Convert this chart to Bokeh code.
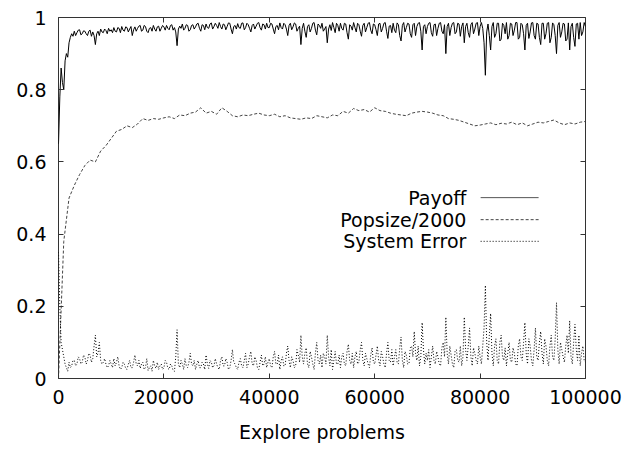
from bokeh.plotting import figure
from bokeh.models import (FixedTicker, CustomJSTickFormatter, LinearAxis, Label, Arrow,
                          ColumnDataSource)
from bokeh.embed import file_html
from bokeh.resources import INLINE

# ---------------- data ----------------
STEP = 250  # sampling interval of payoff / system error (explore problems)
payoff = [
    0.65,0.78, 0.86,0.82, 0.80,0.88, 0.90,0.89, 0.93,0.945, 0.955,0.948, 0.962,0.950, 0.958,0.965, 0.966,0.952, 0.955,0.963, 0.962,0.955, 0.950,0.962, 0.965,0.948, 0.960,0.950, 0.925,0.955, 0.962,0.950, 0.968,0.960, 0.958,0.968, 0.964,0.955, 0.970,0.962,
    0.966,0.958, 0.972,0.962, 0.960,0.972, 0.970,0.958, 0.975,0.965, 0.962,0.974, 0.972,0.960, 0.968,0.975, 0.950,0.966, 0.974,0.962, 0.970,0.976, 0.978,0.962, 0.965,0.978, 0.975,0.962, 0.958,0.970, 0.972,0.962, 0.978,0.968, 0.962,0.974, 0.976,0.962, 0.970,0.978,
    0.974,0.965, 0.978,0.970, 0.966,0.978, 0.980,0.965, 0.972,0.960, 0.922,0.968, 0.976,0.970, 0.982,0.965, 0.970,0.980, 0.978,0.962, 0.966,0.978, 0.980,0.968, 0.974,0.982, 0.984,0.970, 0.962,0.980, 0.978,0.966, 0.982,0.972, 0.970,0.982, 0.985,0.968, 0.975,0.984,
    0.978,0.970, 0.986,0.975, 0.968,0.982, 0.980,0.966, 0.975,0.985, 0.984,0.968, 0.955,0.975, 0.978,0.968, 0.983,0.972, 0.970,0.984, 0.985,0.966, 0.972,0.984, 0.980,0.970, 0.960,0.978, 0.982,0.968, 0.976,0.984, 0.986,0.972, 0.965,0.982, 0.980,0.968, 0.984,0.972,
    0.972,0.984, 0.982,0.968, 0.955,0.975, 0.978,0.966, 0.985,0.972, 0.968,0.984, 0.980,0.968, 0.950,0.978, 0.984,0.966, 0.974,0.985, 0.982,0.962, 0.970,0.976, 0.925,0.970, 0.984,0.962, 0.945,0.975, 0.980,0.960, 0.970,0.984, 0.986,0.965, 0.952,0.982, 0.978,0.970,
    0.984,0.962, 0.968,0.975, 0.930,0.968, 0.980,0.964, 0.986,0.972, 0.958,0.984, 0.978,0.962, 0.984,0.970, 0.965,0.984, 0.982,0.958, 0.940,0.980, 0.976,0.965, 0.986,0.972, 0.960,0.984, 0.980,0.962, 0.948,0.978, 0.984,0.960, 0.972,0.984, 0.986,0.965, 0.955,0.982,
    0.980,0.966, 0.950,0.982, 0.984,0.960, 0.970,0.984, 0.986,0.962, 0.942,0.976, 0.978,0.958, 0.984,0.965, 0.958,0.985, 0.980,0.950, 0.935,0.978, 0.986,0.960, 0.972,0.984, 0.982,0.955, 0.945,0.980, 0.984,0.950, 0.975,0.984, 0.986,0.962, 0.910,0.975, 0.980,0.955,
    0.975,0.984, 0.986,0.958, 0.948,0.980, 0.982,0.950, 0.970,0.984, 0.986,0.962, 0.955,0.980, 0.900,0.975, 0.984,0.950, 0.972,0.984, 0.986,0.955, 0.960,0.984, 0.982,0.948, 0.975,0.985, 0.930,0.975, 0.984,0.958, 0.945,0.980, 0.986,0.955, 0.968,0.984, 0.986,0.950,
    0.975,0.986, 0.970,0.930, 0.840,0.960, 0.982,0.950, 0.910,0.975, 0.986,0.945, 0.955,0.984, 0.984,0.935, 0.940,0.984, 0.978,0.955, 0.986,0.940, 0.950,0.984, 0.982,0.950, 0.965,0.986, 0.986,0.940, 0.945,0.984, 0.980,0.955, 0.910,0.978, 0.984,0.942, 0.960,0.985,
    0.986,0.950, 0.940,0.984, 0.982,0.945, 0.925,0.984, 0.984,0.940, 0.955,0.984, 0.986,0.930, 0.945,0.985, 0.980,0.950, 0.900,0.978, 0.986,0.945, 0.960,0.984, 0.982,0.935, 0.940,0.985, 0.910,0.975, 0.984,0.945, 0.920,0.982, 0.984,0.940, 0.986,0.950, 0.960,0.986,
    0.975,
]
system_error = [
    0.35,0.20, 0.10,0.08, 0.06,0.04, 0.03,0.02, 0.045,0.03, 0.035,0.05, 0.05,0.035, 0.04,0.06, 0.055,0.04, 0.045,0.065, 0.06,0.04, 0.05,0.07, 0.065,0.045, 0.055,0.09, 0.12,0.06, 0.07,0.10, 0.05,0.04, 0.045,0.055, 0.04,0.03, 0.035,0.05,
    0.04,0.03, 0.055,0.035, 0.045,0.06, 0.035,0.025, 0.03,0.045, 0.04,0.028, 0.025,0.04, 0.05,0.03, 0.03,0.045, 0.065,0.04, 0.035,0.05, 0.028,0.04, 0.045,0.025, 0.03,0.055, 0.022,0.03, 0.035,0.02, 0.05,0.035, 0.028,0.045, 0.025,0.035, 0.04,0.025,
    0.03,0.05, 0.045,0.028, 0.025,0.04, 0.035,0.022, 0.02,0.06, 0.135,0.04, 0.03,0.05, 0.04,0.025, 0.055,0.035, 0.03,0.045, 0.07,0.04, 0.035,0.05, 0.025,0.04, 0.05,0.03, 0.03,0.045, 0.04,0.025, 0.065,0.04, 0.028,0.05, 0.045,0.03, 0.035,0.055,
    0.04,0.03, 0.025,0.05, 0.06,0.035, 0.035,0.055, 0.045,0.025, 0.03,0.05, 0.08,0.045, 0.04,0.03, 0.025,0.045, 0.055,0.035, 0.03,0.05, 0.07,0.03, 0.04,0.06, 0.075,0.04, 0.035,0.06, 0.05,0.03, 0.025,0.045, 0.065,0.035, 0.04,0.06, 0.03,0.045,
    0.055,0.035, 0.03,0.06, 0.075,0.04, 0.04,0.065, 0.025,0.05, 0.06,0.035, 0.035,0.07, 0.09,0.05, 0.03,0.06, 0.05,0.03, 0.035,0.08, 0.065,0.045, 0.12,0.06, 0.04,0.07, 0.085,0.04, 0.03,0.075, 0.06,0.04, 0.025,0.07, 0.10,0.05, 0.04,0.065,
    0.03,0.07, 0.06,0.04, 0.12,0.06, 0.035,0.08, 0.025,0.05, 0.075,0.04, 0.04,0.065, 0.03,0.06, 0.07,0.04, 0.035,0.075, 0.095,0.05, 0.04,0.07, 0.03,0.06, 0.075,0.04, 0.045,0.08, 0.10,0.05, 0.035,0.07, 0.055,0.04, 0.03,0.065, 0.085,0.045,
    0.04,0.065, 0.09,0.05, 0.035,0.075, 0.06,0.04, 0.03,0.07, 0.10,0.05, 0.045,0.08, 0.035,0.06, 0.08,0.045, 0.04,0.085, 0.115,0.05, 0.03,0.075, 0.065,0.04, 0.04,0.085, 0.09,0.06, 0.13,0.07, 0.05,0.09, 0.035,0.06, 0.155,0.08, 0.04,0.07,
    0.05,0.08, 0.03,0.06, 0.09,0.05, 0.04,0.075, 0.06,0.04, 0.035,0.085, 0.10,0.06, 0.17,0.07, 0.04,0.09, 0.065,0.04, 0.03,0.075, 0.08,0.05, 0.045,0.09, 0.035,0.06, 0.17,0.08, 0.05,0.09, 0.14,0.06, 0.035,0.085, 0.07,0.05, 0.04,0.09,
    0.06,0.04, 0.09,0.14, 0.258,0.10, 0.05,0.12, 0.18,0.07, 0.035,0.09, 0.11,0.05, 0.04,0.10, 0.12,0.06, 0.05,0.085, 0.035,0.07, 0.10,0.05, 0.045,0.085, 0.07,0.04, 0.035,0.09, 0.11,0.06, 0.05,0.10, 0.155,0.07, 0.04,0.11, 0.09,0.05,
    0.035,0.08, 0.14,0.06, 0.05,0.10, 0.13,0.07, 0.04,0.11, 0.09,0.05, 0.035,0.09, 0.12,0.06, 0.05,0.11, 0.21,0.08, 0.04,0.10, 0.08,0.06, 0.045,0.09, 0.12,0.07, 0.16,0.06, 0.04,0.10, 0.15,0.08, 0.05,0.12, 0.035,0.07, 0.09,0.05,
    0.045,
]
POP_STEP = 1000  # sampling interval of the population size curve
popsize_2000 = [
    0.00, 0.38, 0.50, 0.535, 0.565, 0.59, 0.605, 0.60, 0.63, 0.645,
    0.665, 0.685, 0.69, 0.70, 0.695, 0.705, 0.72, 0.715, 0.72, 0.718,
    0.722, 0.725, 0.72, 0.73, 0.728, 0.735, 0.738, 0.75, 0.735, 0.74,
    0.732, 0.75, 0.74, 0.728, 0.725, 0.73, 0.728, 0.732, 0.735, 0.73,
    0.728, 0.732, 0.725, 0.728, 0.722, 0.72, 0.718, 0.722, 0.72, 0.728,
    0.725, 0.722, 0.73, 0.728, 0.74, 0.735, 0.748, 0.742, 0.745, 0.738,
    0.75, 0.742, 0.74, 0.735, 0.732, 0.73, 0.728, 0.735, 0.738, 0.74,
    0.738, 0.735, 0.73, 0.728, 0.72, 0.718, 0.715, 0.71, 0.705, 0.70,
    0.702, 0.705, 0.708, 0.703, 0.707, 0.705, 0.71, 0.703, 0.708, 0.70,
    0.705, 0.71, 0.708, 0.712, 0.716, 0.708, 0.703, 0.708, 0.705, 0.71,
    0.712,
]
x_ticks = [0, 20000, 40000, 60000, 80000, 100000]
y_ticks = [0, 0.2, 0.4, 0.6, 0.8, 1]
series_names = ["Payoff", "Popsize/2000", "System Error"]

x_fine = [i * STEP for i in range(len(payoff))]
x_pop = [i * POP_STEP for i in range(len(popsize_2000))]

FONT = "DejaVu Sans"
FS = "19px"

p = figure(frame_width=527, frame_height=361, x_range=(0, 100000), y_range=(0, 1),
           output_backend="svg", toolbar_location=None,
           min_border_left=58, min_border_right=52, min_border_top=17, min_border_bottom=70)
p.grid.visible = False
p.outline_line_color = "#333333"
p.outline_line_width = 1
p.background_fill_color = "white"
p.border_fill_color = "white"

src_f = ColumnDataSource(dict(x=x_fine, payoff=payoff, err=system_error))
src_p = ColumnDataSource(dict(x=x_pop, pop=popsize_2000))

p.line("x", "payoff", source=src_f, line_color="black", line_width=1)
p.line("x", "pop", source=src_p, line_color="#444444", line_width=1, line_dash="3 2")
p.line("x", "err", source=src_f, line_color="black", line_width=1, line_dash="1 2")

fmt = CustomJSTickFormatter(code="return String(tick);")

p.add_layout(LinearAxis(), "right")
p.add_layout(LinearAxis(), "above")

for ax in p.below + p.above:
    ax.ticker = FixedTicker(ticks=x_ticks)
for ax in p.left + p.right:
    ax.ticker = FixedTicker(ticks=y_ticks)

for ax in p.below + p.above + p.left + p.right:
    ax.axis_line_color = None
    ax.major_tick_in = 5
    ax.major_tick_out = 0
    ax.major_tick_line_color = "#333333"
    ax.minor_tick_line_color = None
    ax.formatter = fmt
    ax.major_label_text_font = FONT
    ax.major_label_text_font_size = FS
    ax.major_label_text_color = "black"

for ax in p.above + p.right:
    ax.major_label_text_color = None
    ax.major_label_text_font_size = "1px"
    ax.major_label_standoff = 0

xb = p.below[0]
yl = p.left[0]
xb.major_label_standoff = 11
yl.major_label_standoff = 12
xb.axis_label = "Explore problems"
xb.axis_label_text_font = FONT
xb.axis_label_text_font_size = FS
xb.axis_label_text_font_style = "normal"
xb.axis_label_text_color = "black"
xb.axis_label_standoff = 14

# custom legend: right-aligned names with line samples to their right
leg_y = [0.501, 0.440, 0.380]
leg_dash = ["solid", "3 2", "1 2"]
leg_col = ["#555555", "#444444", "black"]
for name, yy, dash, col in zip(series_names, leg_y, leg_dash, leg_col):
    p.add_layout(Label(x=77400, y=yy, text=name, text_align="right", text_baseline="middle",
                       text_font=FONT, text_font_size=FS, text_color="black"))
    p.add_layout(Arrow(end=None, x_start=80100, y_start=yy, x_end=91100, y_end=yy,
                       line_color=col, line_width=1, line_dash=dash))

open("out.html", "w").write(file_html(p, INLINE))
